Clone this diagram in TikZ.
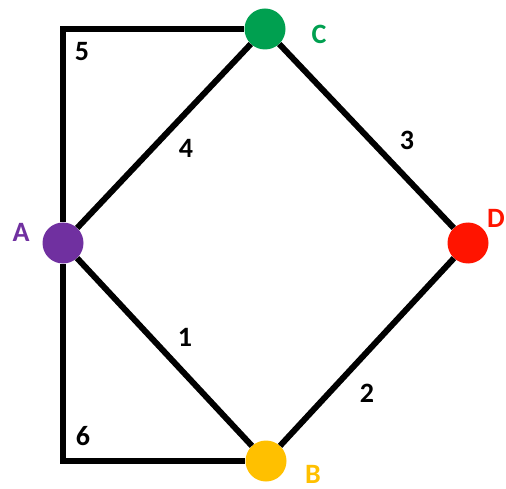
\documentclass[tikz,border=0pt]{standalone}
\usepackage{fontspec}
\setmainfont{Carlito}
\definecolor{cpurple}{HTML}{7030A0}
\definecolor{cgreen}{HTML}{00A050}
\definecolor{cred}{HTML}{FF1400}
\definecolor{cyellow}{HTML}{FFC000}
\begin{document}
\begin{tikzpicture}[x=1pt,y=-1pt,
  vert/.style={circle,fill=#1,inner sep=0pt,minimum size=41pt},
  edge/.style={line width=6pt,black},
  lbl/.style={font=\fontsize{28}{30}\selectfont\bfseries,inner sep=0pt},
  wlbl/.style={font=\fontsize{28}{30}\selectfont\bfseries,inner sep=0pt}]
\useasboundingbox (0,0) rectangle (506,489);
\node[vert=cpurple] (A) at (63,243) {};
\node[vert=cgreen] (C) at (265,29) {};
\node[vert=cred] (D) at (468,243) {};
\node[vert=cyellow] (B) at (266,461) {};
\draw[edge] (A) -- (C);
\draw[edge] (C) -- (D);
\draw[edge] (D) -- (B);
\draw[edge] (B) -- (A);
\draw[edge,line join=miter] (A) |- (C);
\draw[edge,line join=miter] (A) |- (B);
\node[lbl,text=cpurple] (lA) at (21,232) {A};
\node[lbl,text=cgreen] (lC) at (319,34) {C};
\node[lbl,text=cred] (lD) at (496,218) {D};
\node[lbl,text=cyellow] (lB) at (313,474) {B};
\node[wlbl] (w5) at (82,52) {5};
\node[wlbl] (w4) at (186,148) {4};
\node[wlbl] (w3) at (407,140) {3};
\node[wlbl] (w1) at (185,337) {1};
\node[wlbl] (w2) at (367,393) {2};
\node[wlbl] (w6) at (83,436) {6};
\end{tikzpicture}
\end{document}
